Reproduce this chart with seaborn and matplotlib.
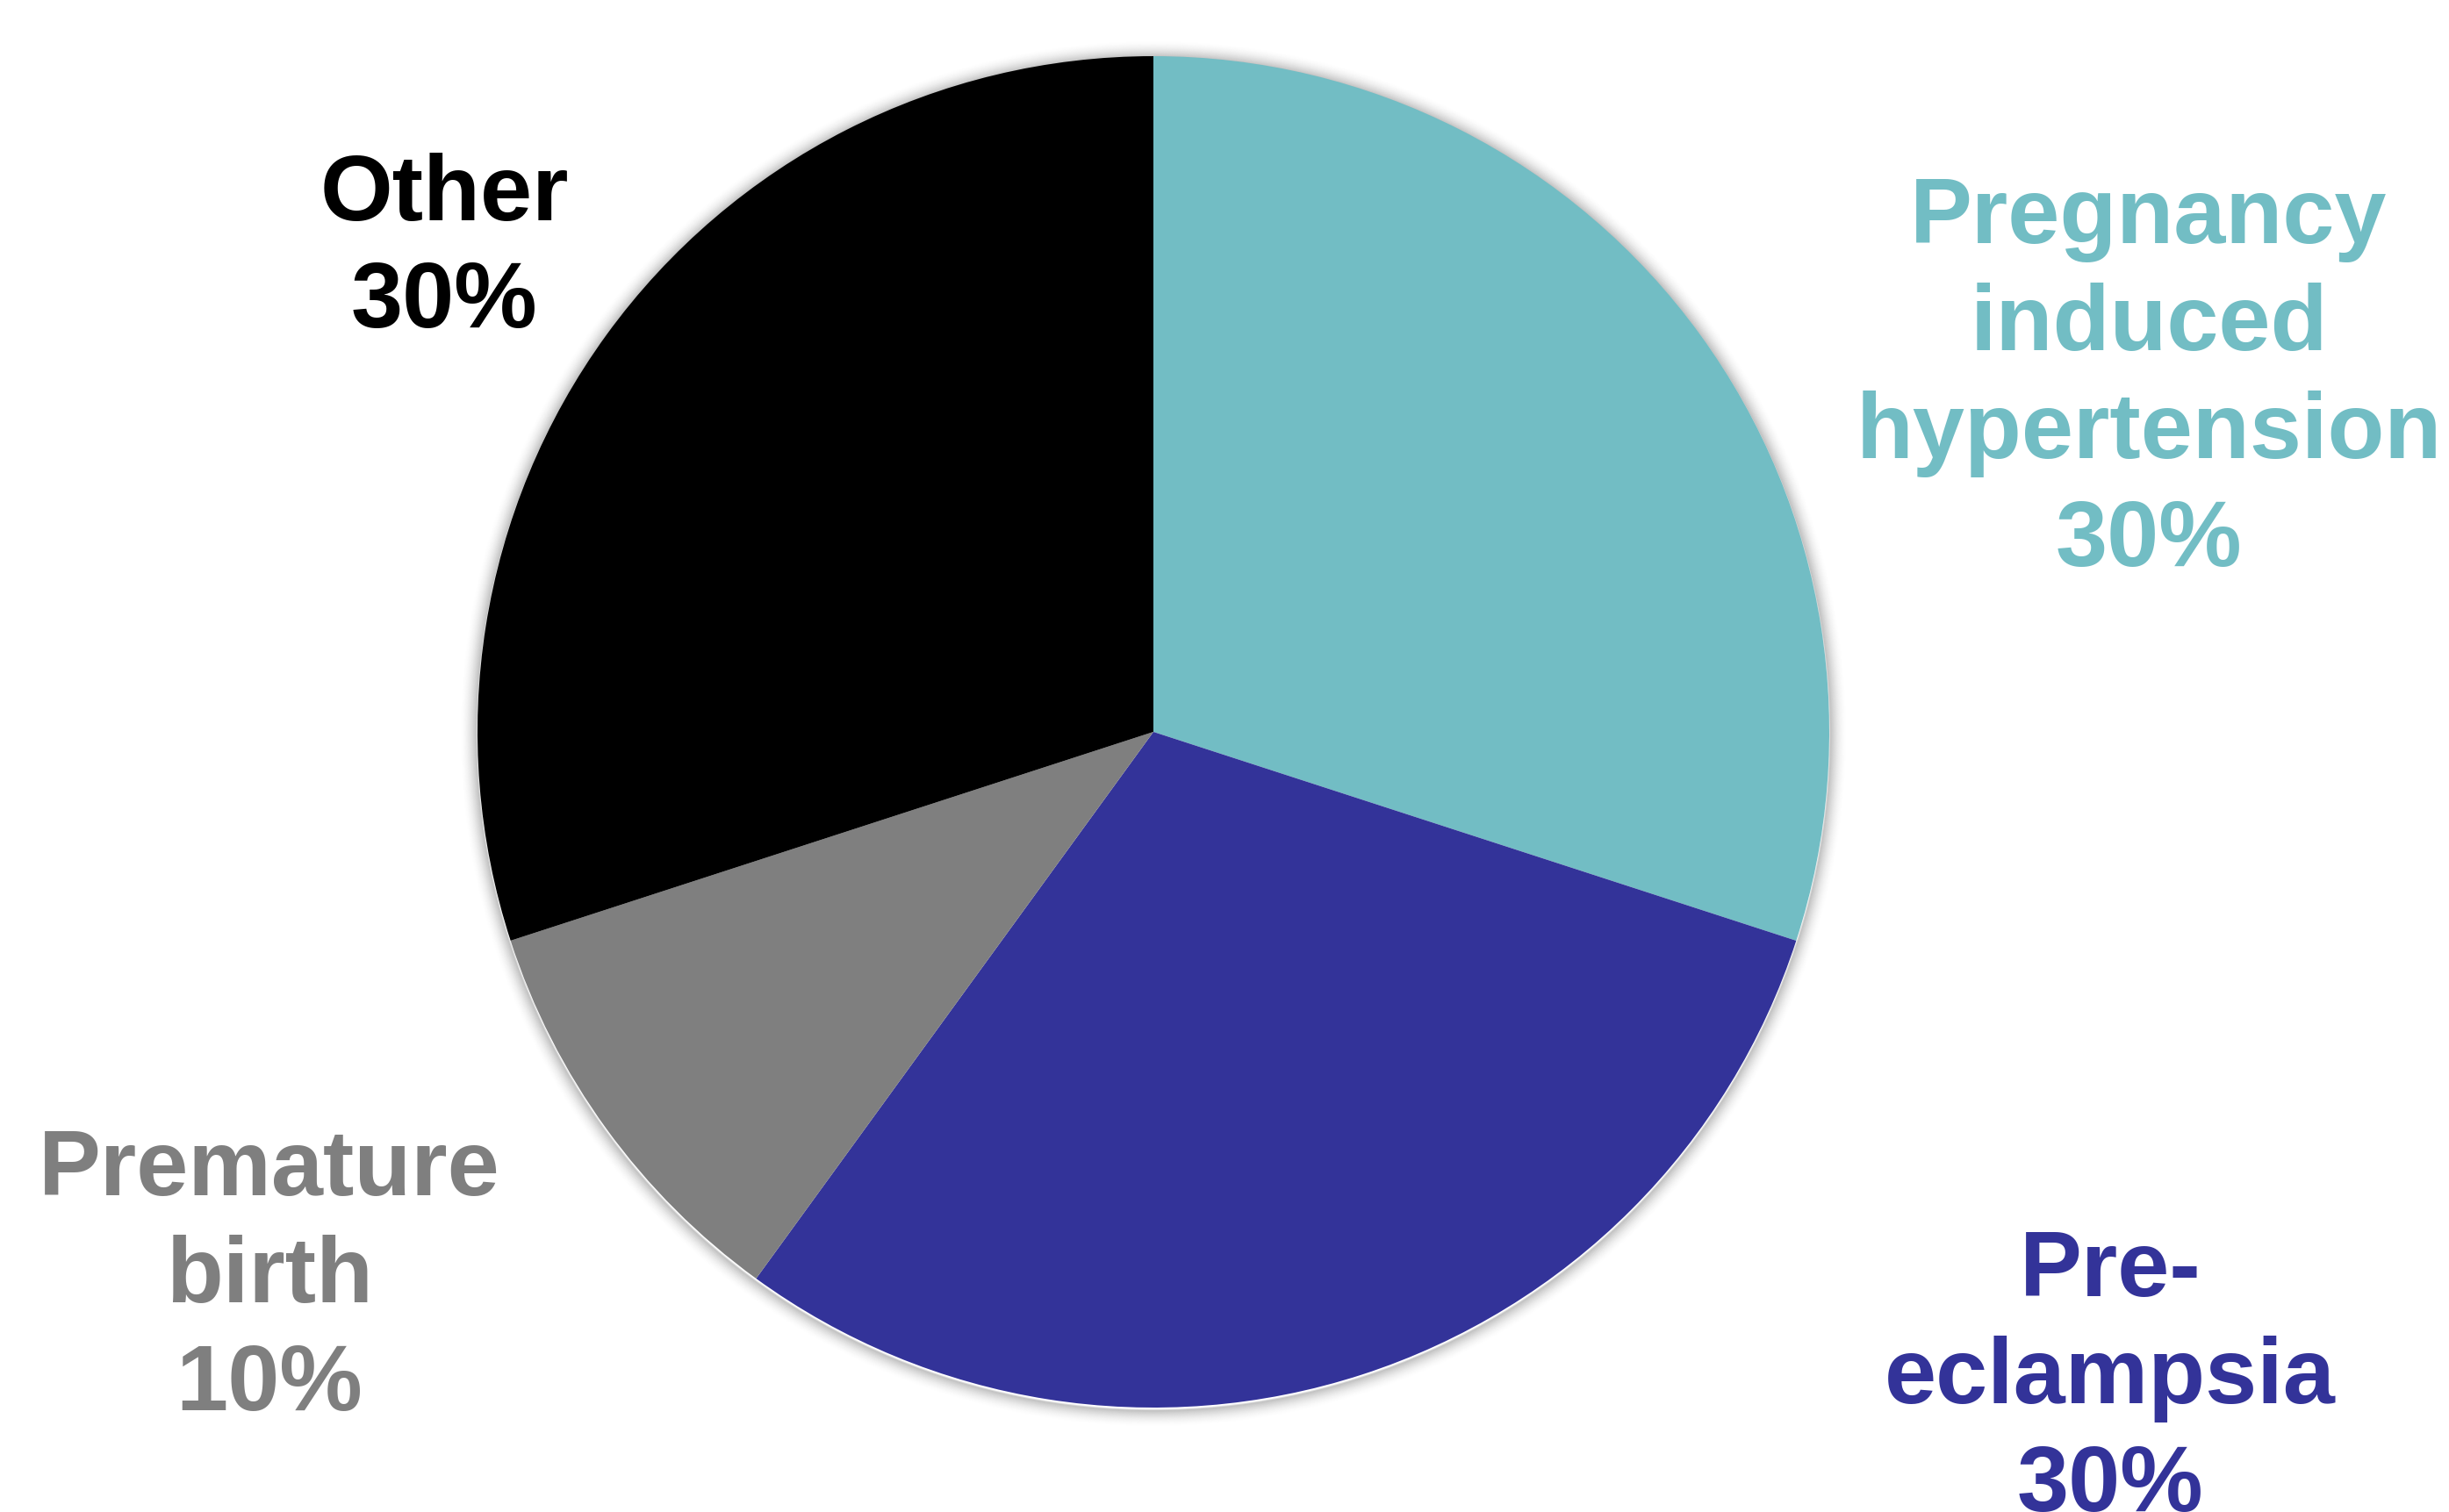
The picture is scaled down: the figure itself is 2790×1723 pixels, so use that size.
import matplotlib
matplotlib.use("Agg")
import matplotlib.pyplot as plt
from matplotlib.patches import Circle
import seaborn as sns

sns.set_theme(style="white")
plt.rcParams["font.family"] = ["Liberation Sans", "DejaVu Sans"]

# Causes and their shares (percent)
categories = ["Pregnancy induced hypertension", "Pre-eclampsia", "Premature birth", "Other"]
shares = [30, 30, 10, 30]
label_lines = [
    ["Pregnancy", "induced", "hypertension", "30%"],
    ["Pre-", "eclampsia", "30%"],
    ["Premature", "birth", "10%"],
    ["Other", "30%"],
]
colors = ["#72BDC4", "#333399", "#7F7F7F", "#000000"]

W, H = 2790, 1724
fig = plt.figure(figsize=(W / 100, H / 100), dpi=100)
ax = fig.add_axes([0, 0, 1, 1])
ax.set_xlim(0, W)
ax.set_ylim(0, H)
ax.set_aspect("equal")
ax.axis("off")

cx, cy, r = 1314, H - 835, 770

# soft glow around the pie
for k in range(20):
    ax.add_patch(Circle((cx, cy - 2), r + 1 + k, facecolor="none",
                        edgecolor="#000000", linewidth=1.6,
                        alpha=0.12 * (1 - k / 20) ** 2, zorder=1))

ax.pie(shares, colors=colors, startangle=90, counterclock=False,
       center=(cx, cy), radius=r, frame=True,
       wedgeprops=dict(linewidth=0, zorder=2))
ax.set_xlim(0, W)
ax.set_ylim(0, H)
ax.axis("off")

# label placement: centre x, first baseline (pixels from top)
label_pos = [(2448, 277), (2404, 1477), (307, 1362), (506, 251)]
line_step = 122.5
for lines, col, (x, y0) in zip(label_lines, colors, label_pos):
    for i, line in enumerate(lines):
        ax.text(x, H - (y0 + i * line_step), line, ha="center", va="baseline",
                fontsize=76.5, fontweight="bold", color=col, zorder=5)

fig.savefig("out.png", dpi=100, facecolor="white")
